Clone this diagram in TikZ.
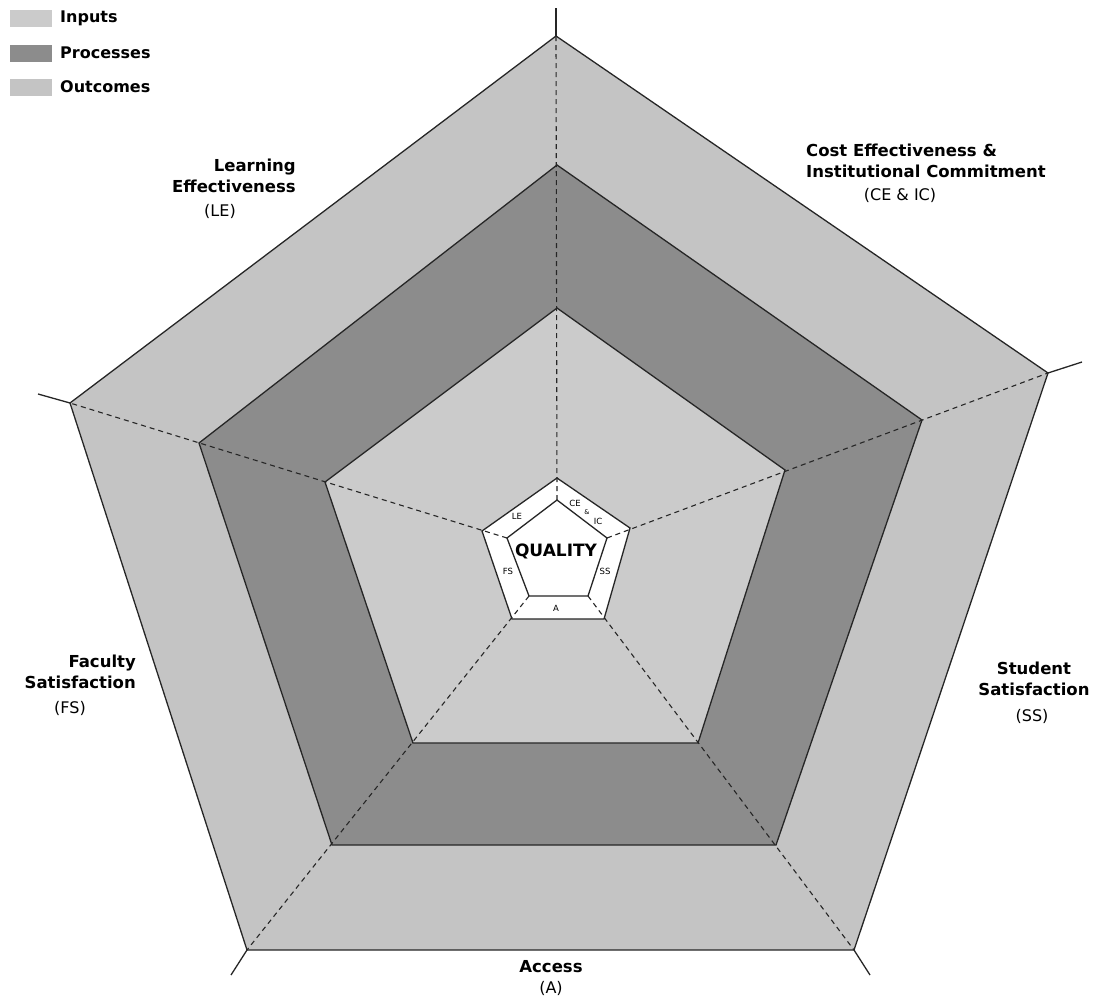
\documentclass[tikz,border=0pt]{standalone}
\usepackage{fontspec}
\setmainfont{DejaVu Sans}
\definecolor{inputgray}{HTML}{CBCBCB}
\definecolor{processgray}{HTML}{8C8C8C}
\definecolor{outcomegray}{HTML}{C4C4C4}
\begin{document}
\begin{tikzpicture}[x=1pt, y=-1pt,
    edge/.style={line width=1.3pt, black!85},
    spoke/.style={line width=1.1pt, black!85, dash pattern=on 5pt off 4pt},
    keybox/.style={minimum width=42pt, minimum height=17pt, inner sep=0pt},
    keytext/.style={font=\bfseries\fontsize{16}{18}\selectfont, anchor=west, inner sep=0pt},
    dimname/.style={font=\bfseries\fontsize{16.5}{21}\selectfont, inner sep=0pt},
    dimabbr/.style={font=\fontsize{16}{18}\selectfont, inner sep=0pt},
    ringabbr/.style={font=\fontsize{8.5}{9}\selectfont, inner sep=0pt}]
    \useasboundingbox (0,0) rectangle (1096,1001);
    % corners: 1 top, 2 right, 3 bottom right, 4 bottom left, 5 left
    \coordinate (o1) at (556,36);  \coordinate (o2) at (1048,373); \coordinate (o3) at (854,950);
    \coordinate (o4) at (247,950); \coordinate (o5) at (70,403);
    \coordinate (p1) at (557,165); \coordinate (p2) at (922,420);  \coordinate (p3) at (776,845);
    \coordinate (p4) at (332,845); \coordinate (p5) at (199,443);
    \coordinate (i1) at (557,308); \coordinate (i2) at (785,470);  \coordinate (i3) at (698,743);
    \coordinate (i4) at (413,743); \coordinate (i5) at (325,482);
    \coordinate (r1) at (557,478); \coordinate (r2) at (630,528);  \coordinate (r3) at (604,619);
    \coordinate (r4) at (512,619); \coordinate (r5) at (482,531);
    \coordinate (q1) at (557,500); \coordinate (q2) at (607,538);  \coordinate (q3) at (588,596);
    \coordinate (q4) at (529,596); \coordinate (q5) at (507,538);
    \coordinate (x1) at (556,8);   \coordinate (x2) at (1082,362); \coordinate (x3) at (870,975);
    \coordinate (x4) at (231,975); \coordinate (x5) at (38,394);
    % bands
    \fill[outcomegray] (o1) -- (o2) -- (o3) -- (o4) -- (o5) -- cycle;
    \fill[processgray] (p1) -- (p2) -- (p3) -- (p4) -- (p5) -- cycle;
    \fill[inputgray] (i1) -- (i2) -- (i3) -- (i4) -- (i5) -- cycle;
    \fill[white] (r1) -- (r2) -- (r3) -- (r4) -- (r5) -- cycle;
    \foreach \k in {1,...,5}
        \draw[spoke] (q\k) -- (o\k);
    \foreach \s in {o,p,i,r}
        \draw[edge, line join=miter] (\s1) -- (\s2) -- (\s3) -- (\s4) -- (\s5) -- cycle;
    \fill[white] (q1) -- (q2) -- (q3) -- (q4) -- (q5) -- cycle;
    \draw[edge] (q1) -- (q2) -- (q3) -- (q4) -- (q5) -- cycle;
    \foreach \k in {1,...,5}
        \draw[edge] (o\k) -- (x\k);
    % legend
    \node[keybox, fill=inputgray] (kin) at (31,18) {};
    \node[keybox, fill=processgray] (kpr) at (31,53) {};
    \node[keybox, fill=outcomegray] (kout) at (31,87) {};
    \node[keytext] (tin) at (60,18) {Inputs};
    \node[keytext] (tpr) at (60,53) {Processes};
    \node[keytext] (tout) at (60,87) {Outcomes};
    % dimensions
    \node[dimname, align=right, anchor=north east] (le) at (296,159) {Learning\\Effectiveness};
    \node[dimabbr] (leab) at (220,211) {(LE)};
    \node[dimname, align=left, anchor=north west] (ce) at (806,144) {Cost Effectiveness \&\\Institutional Commitment};
    \node[dimabbr] (ceab) at (900,195) {(CE \& IC)};
    \node[dimname, align=center, anchor=north] (ss) at (1034,662) {Student\\Satisfaction};
    \node[dimabbr] (ssab) at (1032,716) {(SS)};
    \node[dimname, align=right, anchor=north east] (fs) at (136,655) {Faculty\\Satisfaction};
    \node[dimabbr] (fsab) at (70,708) {(FS)};
    \node[dimname, anchor=north] (acc) at (551,960) {Access};
    \node[dimabbr] (accab) at (551,988) {(A)};
    % core
    \node[font=\bfseries\fontsize{17}{20}\selectfont, inner sep=0pt] (quality) at (556,551) {QUALITY};
    \node[ringabbr] (rle) at (517,516) {LE};
    \node[ringabbr] (rce) at (575,503) {CE};
    \node[ringabbr, font=\fontsize{6.5}{7}\selectfont] (ramp) at (587,512) {\&};
    \node[ringabbr] (ric) at (598,521) {IC};
    \node[ringabbr] (rss) at (605,571) {SS};
    \node[ringabbr] (ra) at (556,608) {A};
    \node[ringabbr] (rfs) at (508,571) {FS};
\end{tikzpicture}
\end{document}
